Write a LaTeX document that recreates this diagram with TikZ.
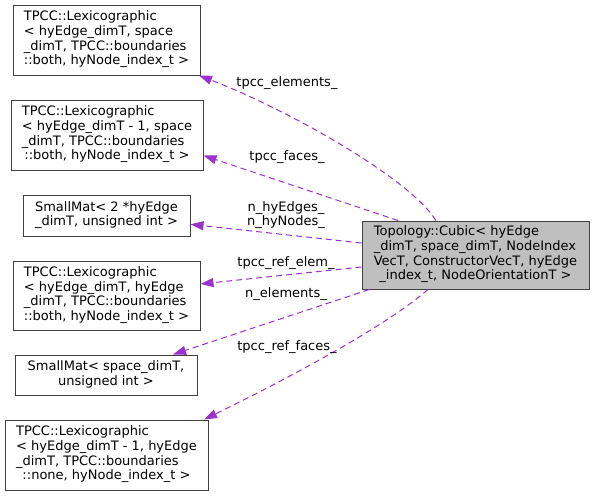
\documentclass[tikz,border=0pt]{standalone}
\usepackage{fontspec}
\setmainfont{DejaVu Sans}
\usepackage{tikz}
\usetikzlibrary{arrows.meta, positioning}

\definecolor{edgepurple}{HTML}{9A32CD}
\definecolor{boxgrey}{HTML}{BFBFBF}
\definecolor{boxline}{HTML}{404040}

% class label: left lines, last line centred
\newcommand{\clstext}[2]{\begin{tabular}{@{}l@{}}#1\\\multicolumn{1}{@{}c@{}}{#2}\end{tabular}}

\begin{document}
\begin{tikzpicture}[
		x=1pt, y=1pt,
		every node/.style={font=\fontsize{13}{14.7}\selectfont},
		cls/.style={draw=boxline, line width=1pt, rectangle, inner sep=0pt, fill=white},
		member/.style={edgepurple, line width=1pt, dash pattern=on 6pt off 4pt,
			-{Stealth[length=13pt, width=9pt, inset=0pt]}},
		lbl/.style={inner sep=0pt, align=center}
		]
		
		\useasboundingbox (0,0) rectangle (595,-496);
		
		% === MAIN CLASS ===
		\node[cls, fill=boxgrey, minimum width=227pt, minimum height=68pt] (cubic) at (475.5,-255)
		{\clstext{Topology::Cubic< hyEdge\\\_dimT, space\_dimT, NodeIndex\\VecT, ConstructorVecT, hyEdge}{\_index\_t, NodeOrientationT >}};
		
		% === MEMBER CLASSES ===
		\node[cls, minimum width=187pt, minimum height=70pt] (elements) at (106.5,-40)
		{\clstext{TPCC::Lexicographic\\< hyEdge\_dimT, space\\\_dimT, TPCC::boundaries}{::both, hyNode\_index\_t >}};
		\node[cls, minimum width=192pt, minimum height=70pt] (faces) at (107,-135)
		{\clstext{TPCC::Lexicographic\\< hyEdge\_dimT - 1, space\\\_dimT, TPCC::boundaries}{::both, hyNode\_index\_t >}};
		\node[cls, minimum width=167pt, minimum height=41pt] (hynum) at (106.5,-215.5)
		{\clstext{SmallMat< 2 *hyEdge}{\_dimT, unsigned int >}};
		\node[cls, minimum width=187pt, minimum height=69pt] (refelem) at (106.5,-295.5)
		{\clstext{TPCC::Lexicographic\\< hyEdge\_dimT, hyEdge\\\_dimT, TPCC::boundaries}{::both, hyNode\_index\_t >}};
		\node[cls, minimum width=182pt, minimum height=40pt] (nelem) at (106,-375)
		{\clstext{SmallMat< space\_dimT,}{unsigned int >}};
		\node[cls, minimum width=203pt, minimum height=70pt] (reffaces) at (106.5,-455)
		{\clstext{TPCC::Lexicographic\\< hyEdge\_dimT - 1, hyEdge\\\_dimT, TPCC::boundaries}{::none, hyNode\_index\_t >}};
		
		% === MEMBER EDGES ===
		\draw[member] (cubic.139) to[out=121, in=-21, out distance=48pt, in distance=97pt] (elements.-21);
		\draw[member] (cubic.156) -- (faces.-12);
		\draw[member] (cubic.174) -- (hynum.-6);
		\draw[member] (cubic.186) -- (refelem.7);
		\draw[member] (cubic.198) -- (nelem.17);
		\draw[member] (cubic.216) to[out=221, in=26, out distance=60pt, in distance=80pt] (reffaces.20);
		
		% === EDGE LABELS ===
		\node[lbl, anchor=base] (lelements) at (287,-86.7) {tpcc\_elements\_};
		\node[lbl, anchor=base] (lfaces) at (287,-160.7) {tpcc\_faces\_};
		\node[lbl] (lhynum) at (286,-215) {n\_hyEdges\_\\n\_hyNodes\_};
		\node[lbl, anchor=base] (lrefelem) at (286,-266) {tpcc\_ref\_elem\_};
		\node[lbl, anchor=base] (lnelem) at (286,-297) {n\_elements\_};
		\node[lbl, anchor=base] (lreffaces) at (287,-350) {tpcc\_ref\_faces\_};
		
	\end{tikzpicture}
\end{document}
